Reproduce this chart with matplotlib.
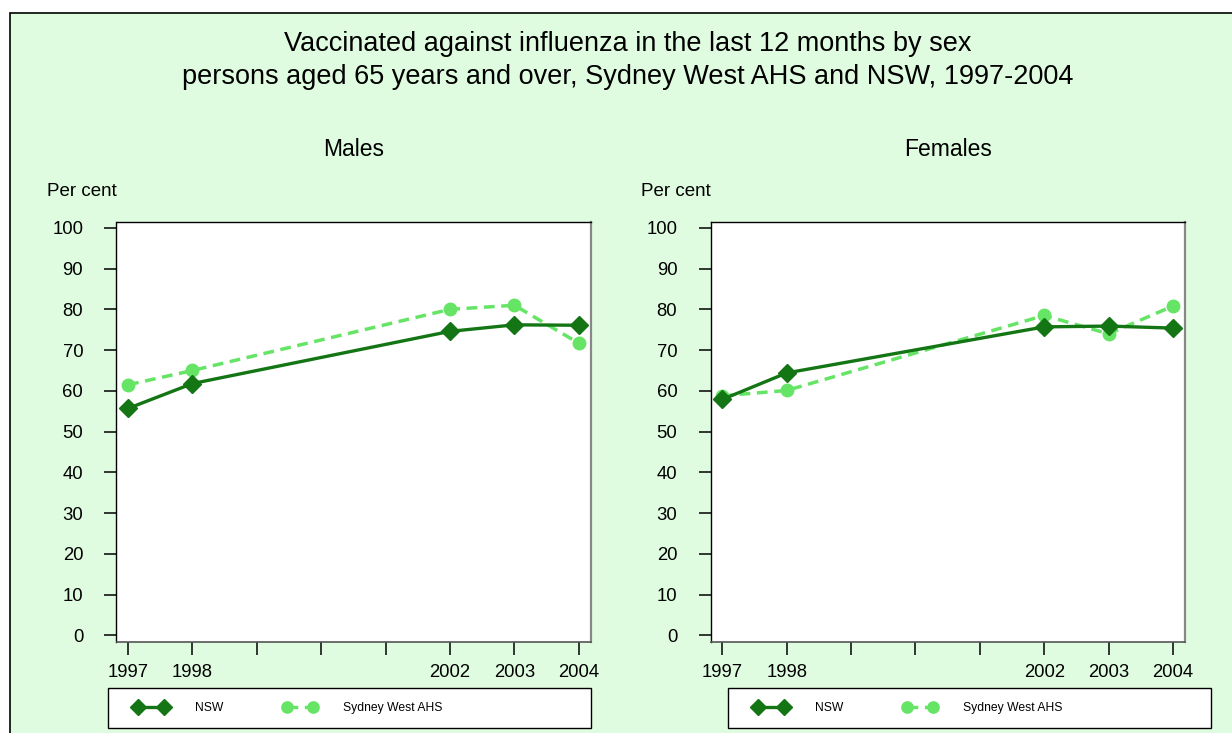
import matplotlib.pyplot as plt
from matplotlib.patches import Rectangle

plt.rcParams['font.family'] = ['Liberation Sans', 'DejaVu Sans']

# data
years = [1997, 1998, 2002, 2003, 2004]
nsw_males = [55.7, 61.8, 74.6, 76.2, 76.1]
swahs_males = [61.5, 65.0, 80.0, 81.0, 71.7]
nsw_females = [57.9, 64.4, 75.7, 75.9, 75.4]
swahs_females = [58.8, 60.1, 78.5, 74.0, 80.8]

tick_years = list(range(1997, 2005))
labelled_years = [1997, 1998, 2002, 2003, 2004]
yticks = list(range(0, 101, 10))

title_lines = ["Vaccinated against influenza in the last 12 months by sex",
               "persons aged 65 years and over, Sydney West AHS and NSW, 1997-2004"]
panels = [("Males", nsw_males, swahs_males), ("Females", nsw_females, swahs_females)]

W, H = 1232, 733
BG = "#E0FCE0"
DARK = "#147514"
LIGHT = "#66E466"


def fx(px):
    return px / W


def fy(py):
    return 1 - py / H


fig = plt.figure(figsize=(W / 100, H / 100), dpi=100)
fig.patch.set_facecolor("white")
fig.add_artist(Rectangle((fx(9.5), -0.1), 1.2, fy(12.5) + 0.1, transform=fig.transFigure,
                         facecolor=BG, edgecolor="black", lw=1.2, zorder=-10))

fig.text(fx(628), fy(51), title_lines[0], ha="center", va="baseline", fontsize=19.5)
fig.text(fx(628), fy(83.5), title_lines[1], ha="center", va="baseline", fontsize=19.5)

ax_left_px = [116.5, 710.7]
ax_w_px = 474.5
leg_left_px = [108.3, 728.3]

for i, (name, nsw, sw) in enumerate(panels):
    x0 = ax_left_px[i]
    ax = fig.add_axes([fx(x0), fy(642), ax_w_px / W, (642 - 221.7) / H])
    ax.set_facecolor("white")
    ax.plot(years, nsw, color=DARK, lw=2.4, marker="D", ms=9.5, label="NSW", zorder=3)
    ax.plot(years, sw, color=LIGHT, lw=2.5, dashes=(3.1, 1.9), marker="o", ms=9,
            label="Sydney West AHS", zorder=2)
    ax.set_xlim(1996.82, 2004.19)
    ax.set_ylim(-1.6, 101.5)
    ax.set_xticks(tick_years)
    ax.set_xticklabels([str(y) if y in labelled_years else "" for y in tick_years])
    ax.set_yticks(yticks)
    ax.tick_params(axis="both", direction="out", length=9, width=1.1, labelsize=13.3)
    ax.tick_params(axis="x", pad=6.8)
    ax.tick_params(axis="y", pad=15)
    for s in ["left", "top"]:
        ax.spines[s].set_linewidth(1.0)
        ax.spines[s].set_color("black")
    ax.spines["right"].set_color("#888888")
    ax.spines["right"].set_linewidth(1.6)
    ax.spines["bottom"].set_color("#555555")
    ax.spines["bottom"].set_linewidth(1.2)

    cx = x0 + ax_w_px / 2
    fig.text(fx(cx), fy(155.7), name, ha="center", va="baseline", fontsize=16.5)
    fig.text(fx(x0 - 69.5), fy(196), "Per cent", ha="left", va="baseline", fontsize=13.5)

    lx = leg_left_px[i]
    fig.add_artist(Rectangle((fx(lx), fy(728.3)), 482.7 / W, 40 / H, transform=fig.transFigure,
                             facecolor="white", edgecolor="black", lw=1.0, zorder=1))
    handles, labels = ax.get_legend_handles_labels()
    fig.legend(handles, labels, loc="center left", bbox_to_anchor=(fx(lx + 26.5), fy(708)),
               bbox_transform=fig.transFigure, ncol=2, frameon=False, fontsize=8.7,
               numpoints=2, handlelength=2.75, handletextpad=2.2, columnspacing=5.0,
               borderpad=0, borderaxespad=0, markerscale=0.9)

fig.savefig("out.png", dpi=100)
